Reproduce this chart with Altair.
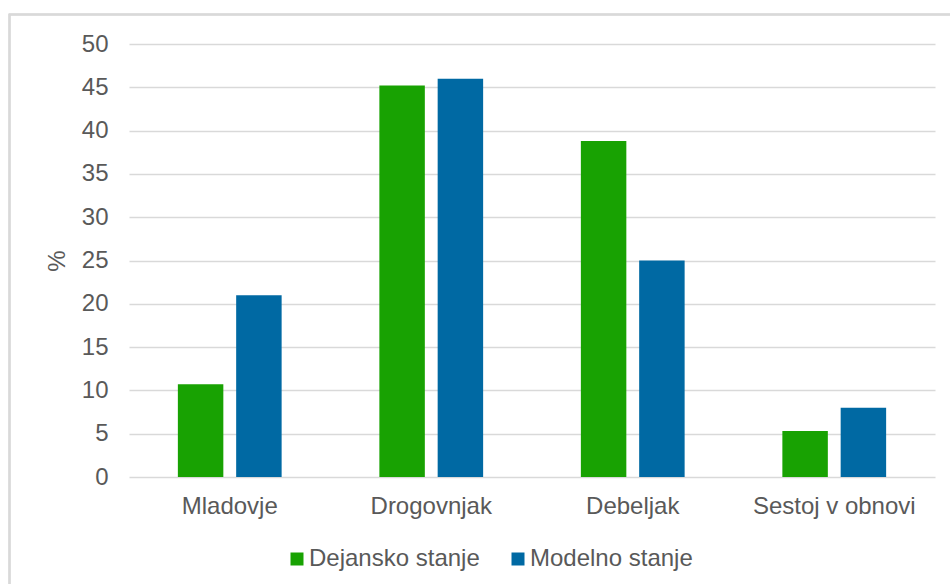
import altair as alt
import pandas as pd

categories = ["Mladovje", "Drogovnjak", "Debeljak", "Sestoj v obnovi"]
series = ["Dejansko stanje", "Modelno stanje"]
dejansko = [10.7, 45.2, 38.8, 5.3]
modelno = [21.0, 46.0, 25.0, 8.0]
y_ticks = [0, 5, 10, 15, 20, 25, 30, 35, 40, 45, 50]
colors = ["#18A202", "#0069A3"]

rows = []
for cat, a, b in zip(categories, dejansko, modelno):
    rows.append({"kategorija": cat, "stanje": series[0], "delez": a})
    rows.append({"kategorija": cat, "stanje": series[1], "delez": b})
df = pd.DataFrame(rows)

FONT = "Liberation Sans"
GREY = "#595959"
FS = 24

bars = alt.Chart(df).mark_bar().encode(
    x=alt.X(
        "kategorija:N",
        sort=categories,
        scale=alt.Scale(paddingInner=0.485, paddingOuter=0.2425),
        axis=alt.Axis(
            title=None,
            labelAngle=0,
            labelFontSize=FS,
            labelColor=GREY,
            labelFont=FONT,
            labelPadding=17,
            ticks=False,
            domain=False,
            grid=False,
        ),
    ),
    xOffset=alt.XOffset(
        "stanje:N", sort=series, scale=alt.Scale(paddingInner=0.22, paddingOuter=0)
    ),
    y=alt.Y(
        "delez:Q",
        scale=alt.Scale(domain=[0, 50], nice=False),
        axis=alt.Axis(
            title="%",
            titleFontSize=FS,
            titleFont=FONT,
            titleColor=GREY,
            titleFontWeight="normal",
            titlePadding=12,
            values=y_ticks,
            labelFontSize=FS,
            labelColor=GREY,
            labelFont=FONT,
            labelPadding=21,
            ticks=False,
            domain=False,
            gridColor="#d9d9d9",
            gridWidth=1.5,
        ),
    ),
    color=alt.Color(
        "stanje:N",
        sort=series,
        scale=alt.Scale(domain=series, range=colors),
        legend=alt.Legend(
            title=None,
            orient="none",
            direction="horizontal",
            legendX=156,
            legendY=503,
            symbolType="square",
            symbolSize=169,
            symbolStrokeWidth=0,
            labelFontSize=FS,
            labelFont=FONT,
            labelColor=GREY,
            labelOffset=0,
            labelLimit=400,
            columnPadding=26,
        ),
    ),
)

frame = alt.Chart(df).mark_rect(
    fill=None, stroke="#d9d9d9", strokeWidth=1.5
).encode(
    x=alt.value(-119.5),
    y=alt.value(-29.5),
    x2=alt.value(840),
    y2=alt.value(560),
)

chart = alt.layer(frame, bars).properties(
    width=806,
    height=433,
    autosize=alt.AutoSizeParams(type="none"),
    padding={"left": 129, "top": 44, "right": 15, "bottom": 107},
    background="white",
).configure_view(stroke=None)

chart.save("out.html", embed_options={"renderer": "svg", "actions": False})
